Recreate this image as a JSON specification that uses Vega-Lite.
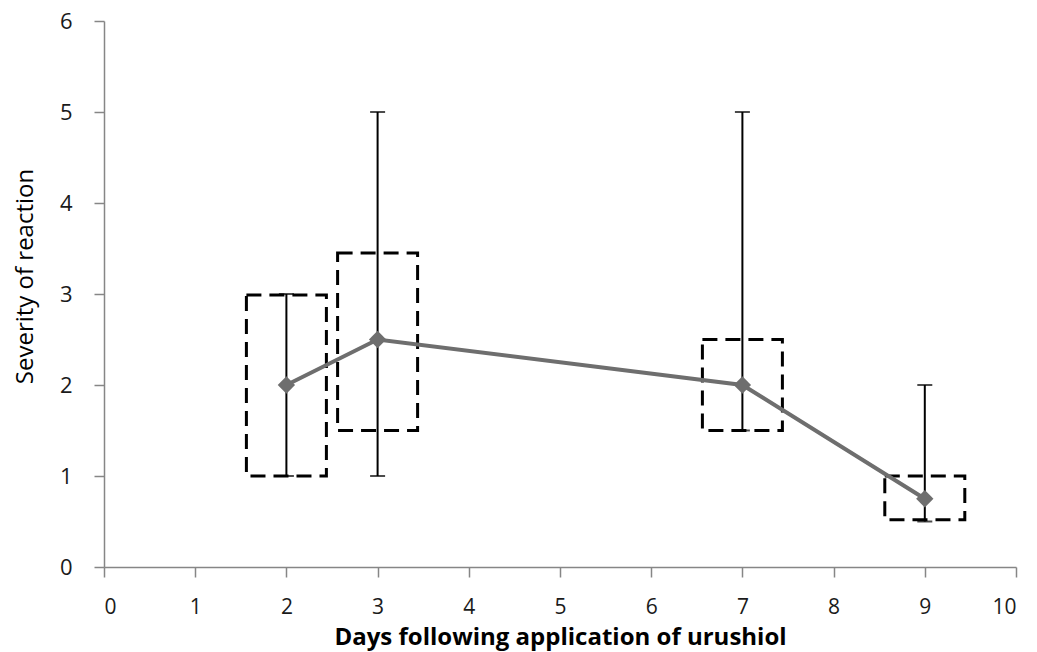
{
  "$schema": "https://vega.github.io/schema/vega-lite/v6.json",
  "autosize": {"type": "none"},
  "padding": {"left": 104, "top": 21, "right": 21, "bottom": 85},
  "width": 912,
  "height": 546,
  "background": "white",
  "data": {
    "values": [
      {"day": 2, "mean": 2.0, "lo": 1.0, "hi": 3.0, "boxLo": 1.0, "boxHi": 2.99},
      {"day": 3, "mean": 2.5, "lo": 1.0, "hi": 5.0, "boxLo": 1.5, "boxHi": 3.45},
      {"day": 7, "mean": 2.0, "lo": 1.5, "hi": 5.0, "boxLo": 1.5, "boxHi": 2.5},
      {"day": 9, "mean": 0.75, "lo": 0.5, "hi": 2.0, "boxLo": 0.52, "boxHi": 1.0}
    ]
  },
  "encoding": {
    "x": {
      "field": "day", "type": "quantitative",
      "scale": {"domain": [0, 10], "nice": false, "zero": false, "padding": 0},
      "axis": {
        "values": [0, 1, 2, 3, 4, 5, 6, 7, 8, 9, 10],
        "format": "d",
        "title": "Days following application of urushiol",
        "titleFontWeight": "bold",
        "titleFontSize": 24,
        "titleX": 456,
        "titleY": 77,
        "titleBaseline": "alphabetic",
        "titleAlign": "center",
        "labelFontSize": 21,
        "labelPadding": 19
      }
    }
  },
  "layer": [
    {
      "mark": {"type": "bar", "size": 80, "fill": "white", "fillOpacity": 0, "stroke": "black", "strokeWidth": 3, "strokeDash": [15, 8]},
      "encoding": {
        "y": {"field": "boxLo", "type": "quantitative"},
        "y2": {"field": "boxHi"}
      }
    },
    {
      "mark": {"type": "rule", "color": "black", "strokeWidth": 2},
      "encoding": {
        "y": {"field": "lo", "type": "quantitative"},
        "y2": {"field": "hi"}
      }
    },
    {
      "mark": {"type": "tick", "orient": "horizontal", "size": 15, "thickness": 2, "color": "black"},
      "encoding": {"y": {"field": "lo", "type": "quantitative"}}
    },
    {
      "mark": {"type": "tick", "orient": "horizontal", "size": 15, "thickness": 2, "color": "black"},
      "encoding": {"y": {"field": "hi", "type": "quantitative"}}
    },
    {
      "mark": {"type": "line", "color": "#6e6e6e", "strokeWidth": 4},
      "encoding": {"y": {"field": "mean", "type": "quantitative"}}
    },
    {
      "mark": {"type": "point", "shape": "diamond", "filled": true, "size": 300, "color": "#6e6e6e", "opacity": 1},
      "encoding": {
        "y": {
          "field": "mean", "type": "quantitative",
          "scale": {"domain": [0, 6], "nice": false, "zero": false},
          "axis": {
            "values": [0, 1, 2, 3, 4, 5, 6],
            "format": "d",
            "title": "Severity of reaction",
            "titleFontWeight": "normal",
            "titleFontSize": 24,
            "titleAngle": -90,
            "titleX": -72,
            "titleY": 255,
            "titleBaseline": "alphabetic",
            "titleAlign": "center",
            "labelFontSize": 22,
            "labelPadding": 22
          }
        }
      }
    }
  ],
  "config": {
    "view": {"stroke": null},
    "font": "Open Sans",
    "axis": {
      "grid": false,
      "domainColor": "#868686",
      "domainWidth": 1.5,
      "tickColor": "#868686",
      "tickWidth": 1.5,
      "tickSize": 10,
      "labelColor": "#1a1a1a",
      "titleColor": "black",
      "labelFont": "Open Sans",
      "titleFont": "Open Sans"
    }
  }
}
